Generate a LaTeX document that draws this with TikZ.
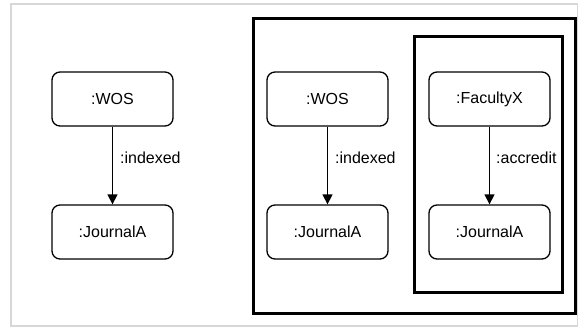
\documentclass[tikz,border=0pt]{standalone}
\usepackage{fontspec}
\setmainfont{Liberation Sans}
\usetikzlibrary{arrows.meta}
\begin{document}
\begin{tikzpicture}[x=1pt,y=-1pt,
  rbox/.style={draw=black, line width=1.3pt, rounded corners=8pt, minimum width=121pt, minimum height=54pt, inner sep=0pt, font=\fontsize{16}{18}\selectfont, fill=white},
  frame/.style={draw=black, line width=3pt},
  rel/.style={draw=black, line width=1.3pt, -{Triangle[length=10pt,width=10pt]}},
  lbl/.style={font=\fontsize{16}{18}\selectfont, anchor=west, inner sep=0pt}
]
\useasboundingbox (0,0) rectangle (578,327);
\draw[draw={rgb,255:red,215;green,215;blue,215}, line width=2pt] (11,4) rectangle (578,326);
\draw[frame] (253,18) rectangle (575,313);
\draw[frame] (414,36) rectangle (562,292);
\node[rbox] (wos1) at (112.5,99) {:WOS};
\node[rbox] (ja1) at (112.5,232) {:JournalA};
\node[rbox] (wos2) at (327.5,99) {:WOS};
\node[rbox] (ja2) at (327.5,232) {:JournalA};
\node[rbox] (fac) at (489.5,99) {:FacultyX};
\node[rbox] (ja3) at (489.5,232) {:JournalA};
\draw[rel] (wos1) -- (ja1) node[lbl, pos=0.4, xshift=7pt] (l1) {:indexed};
\draw[rel] (wos2) -- (ja2) node[lbl, pos=0.4, xshift=7pt] (l2) {:indexed};
\draw[rel] (fac) -- (ja3) node[lbl, pos=0.4, xshift=6pt] (l3) {:accredit};
\end{tikzpicture}
\end{document}
